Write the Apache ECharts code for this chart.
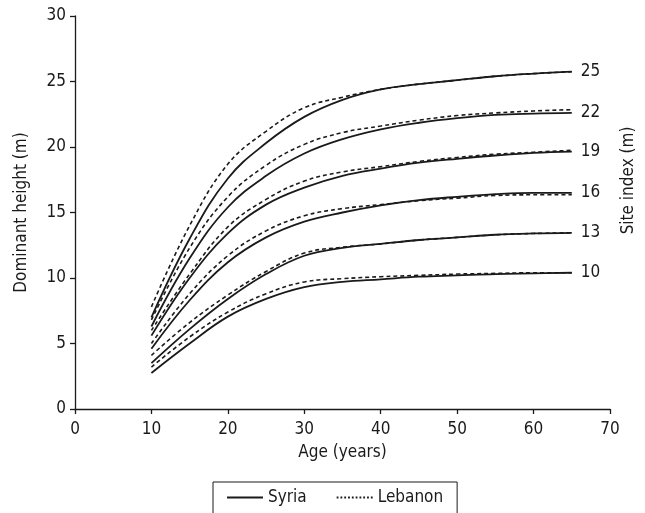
<!DOCTYPE html>
<html>
<head>
<meta charset="utf-8">
<script src="https://cdn.jsdelivr.net/npm/echarts@6/dist/echarts.min.js"></script>
<style>
  html, body { margin: 0; padding: 0; background: #fff; }
  #main { width: 645px; height: 513px; }
</style>
</head>
<body>
<div id="main"></div>
<script type="text/javascript">
    // ages (years)
    var ages = [10, 15, 20, 25, 30, 35, 40, 45, 50, 55, 60, 65];
    var siteIndex = [25, 22, 19, 16, 13, 10];

    // Syria, solid lines, one array per site index
    var syria25 = [7.0, 13.0, 17.6, 20.3, 22.3, 23.6, 24.4, 24.8, 25.1, 25.4, 25.6, 25.75];
    var syria22 = [6.3, 11.5, 15.4, 17.8, 19.5, 20.6, 21.35, 21.85, 22.2, 22.45, 22.55, 22.6];
    var syria19 = [5.6, 10.0, 13.4, 15.6, 16.9, 17.8, 18.35, 18.8, 19.1, 19.35, 19.55, 19.65];
    var syria16 = [4.6, 8.3, 11.2, 13.1, 14.3, 15.0, 15.55, 15.95, 16.2, 16.4, 16.5, 16.5];
    var syria13 = [3.5, 6.1, 8.4, 10.3, 11.7, 12.3, 12.6, 12.9, 13.1, 13.3, 13.4, 13.45];
    var syria10 = [2.75, 5.0, 7.05, 8.4, 9.3, 9.7, 9.9, 10.1, 10.2, 10.3, 10.35, 10.4];

    // Lebanon, dashed lines
    var lebanon25 = [7.8, 14.0, 18.7, 21.2, 23.0, 23.8, 24.4, 24.8, 25.1, 25.4, 25.6, 25.75];
    var lebanon22 = [6.8, 12.3, 16.2, 18.6, 20.2, 21.1, 21.6, 22.05, 22.4, 22.6, 22.75, 22.85];
    var lebanon19 = [6.0, 10.3, 13.9, 16.0, 17.4, 18.1, 18.5, 18.9, 19.2, 19.45, 19.6, 19.75];
    var lebanon16 = [5.0, 8.8, 11.7, 13.6, 14.75, 15.3, 15.6, 15.9, 16.1, 16.3, 16.35, 16.35];
    var lebanon13 = [4.1, 6.6, 8.7, 10.5, 11.9, 12.35, 12.6, 12.9, 13.1, 13.3, 13.4, 13.45];
    var lebanon10 = [3.2, 5.5, 7.4, 8.8, 9.7, 9.95, 10.1, 10.2, 10.3, 10.35, 10.4, 10.4];

    var syriaSets = [syria25, syria22, syria19, syria16, syria13, syria10];
    var lebanonSets = [lebanon25, lebanon22, lebanon19, lebanon16, lebanon13, lebanon10];

    var font = '"Liberation Sans Narrow", "DejaVu Sans Condensed", "Roboto", sans-serif';
    var ink = '#1a1a1a';

    function pairs(vals) {
        return ages.map(function (a, i) { return [a, vals[i]]; });
    }

    // legend icons: a solid bar and a row of small dots
    var solidIcon = 'path://M0,0h36v2h-36z';
    var dotIcon = 'path://';
    for (var d = 0; d < 10; d++) {
        dotIcon += 'M' + (d * 3.8) + ',0h1.8v2h-1.8z';
    }

    var series = [];
    lebanonSets.forEach(function (vals) {
        series.push({
            name: 'Lebanon',
            type: 'line',
            data: pairs(vals),
            smooth: 0.4,
            symbol: 'none',
            itemStyle: { color: ink },
            lineStyle: { color: ink, width: 1.6, type: [4, 3] },
            z: 2
        });
    });
    syriaSets.forEach(function (vals, k) {
        series.push({
            name: 'Syria',
            type: 'line',
            data: pairs(vals),
            smooth: 0.4,
            symbol: 'none',
            itemStyle: { color: ink },
            lineStyle: { color: ink, width: 1.8, type: 'solid' },
            endLabel: {
                show: true,
                distance: 9,
                color: ink,
                fontFamily: font,
                fontSize: 17,
                formatter: function () { return String(siteIndex[k]); }
            },
            z: 3
        });
    });

    var myChart = echarts.init(document.getElementById('main'));
    myChart.setOption({
        animation: false,
        backgroundColor: '#fff',
        grid: { left: 75, right: 28, top: 16, bottom: 104 },
        legend: {
            left: 213,
            top: 482,
            data: [
                { name: 'Syria', icon: solidIcon, itemStyle: { color: ink } },
                { name: 'Lebanon', icon: dotIcon, itemStyle: { color: ink } }
            ],
            itemWidth: 36,
            itemHeight: 2,
            itemGap: 30,
            padding: [7, 14, 14, 14],
            borderColor: ink,
            borderWidth: 1,
            borderRadius: 0,
            textStyle: { color: ink, fontFamily: font, fontSize: 17 }
        },
        xAxis: {
            type: 'value',
            min: 0,
            max: 70,
            interval: 10,
            name: 'Age (years)',
            nameLocation: 'middle',
            nameGap: 35,
            nameTextStyle: { color: ink, fontFamily: font, fontSize: 17 },
            axisLine: { lineStyle: { color: ink, width: 1.3 } },
            axisTick: { length: 5, lineStyle: { color: ink, width: 1.3 } },
            axisLabel: { color: ink, fontFamily: font, fontSize: 17, margin: 12 },
            splitLine: { show: false }
        },
        yAxis: [{
            type: 'value',
            min: 0,
            max: 30,
            interval: 5,
            name: 'Dominant height (m)',
            nameLocation: 'middle',
            nameGap: 45,
            nameTextStyle: { color: ink, fontFamily: font, fontSize: 17 },
            axisLine: { show: true, lineStyle: { color: ink, width: 1.3 } },
            axisTick: { show: true, length: 5, lineStyle: { color: ink, width: 1.3 } },
            axisLabel: { color: ink, fontFamily: font, fontSize: 17, margin: 9 },
            splitLine: { show: false }
        }, {
            type: 'value',
            position: 'right',
            min: 0,
            max: 30,
            interval: 5,
            name: 'Site index (m)',
            nameLocation: 'middle',
            nameGap: 10,
            nameRotate: 90,
            nameTextStyle: { color: ink, fontFamily: font, fontSize: 17, padding: [0, 0, 0, 64] },
            axisLine: { show: false },
            axisTick: { show: false },
            axisLabel: { show: false },
            splitLine: { show: false }
        }],
        series: series
    });
</script>
</body>
</html>
